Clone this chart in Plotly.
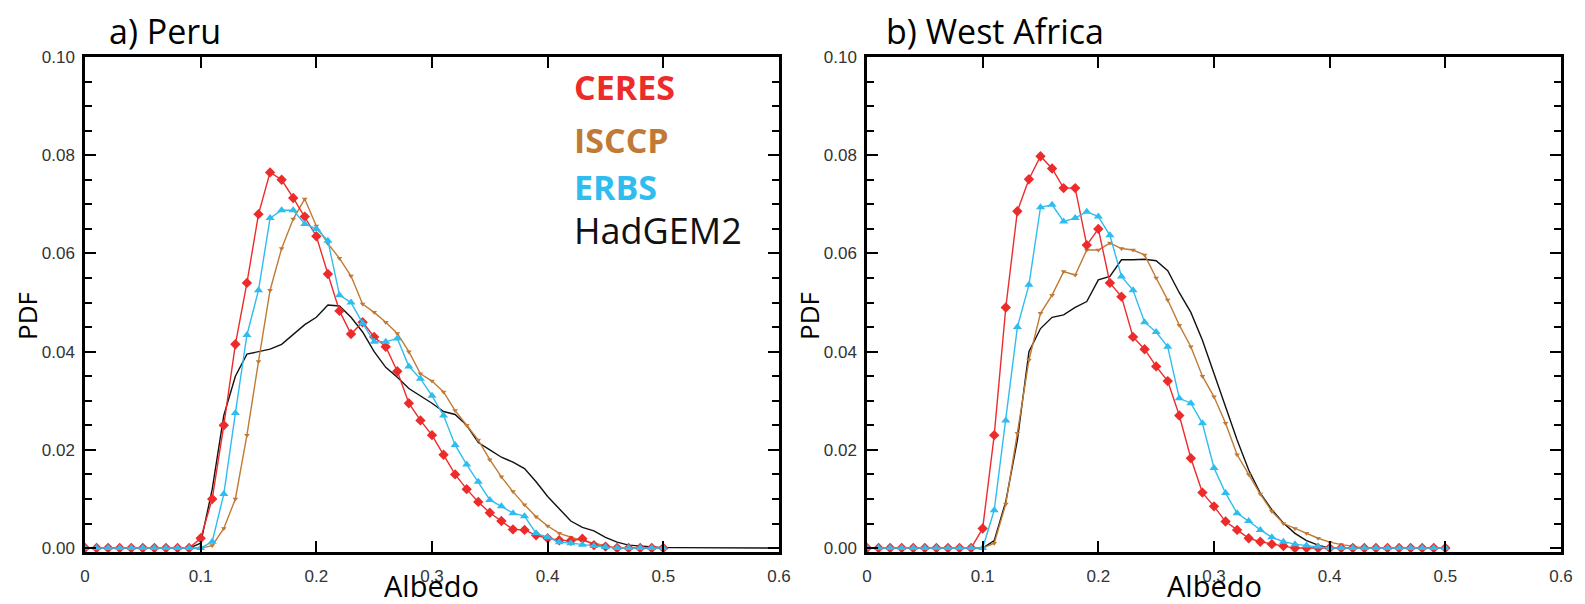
import plotly.graph_objects as go

# ---------------- data ----------------
albedo_obs = [round(i * 0.01, 2) for i in range(51)]          # 0.00 .. 0.50
albedo_model = [round(i * 0.01, 2) for i in range(61)]        # 0.00 .. 0.60

zeros10 = [0.0] * 10

# a) Peru
peru_ceres = zeros10 + [0.002, 0.010, 0.025, 0.0415, 0.054, 0.068, 0.0765, 0.075, 0.0713, 0.0675,
                        0.0635, 0.0558, 0.0483, 0.0436, 0.046, 0.043, 0.041, 0.036, 0.0295, 0.026,
                        0.023, 0.019, 0.015, 0.012, 0.0094, 0.0072, 0.0055, 0.0038, 0.0037, 0.0026,
                        0.002, 0.0016, 0.0015, 0.0019, 0.0006, 0.0003, 0.0, 0.0, 0.0, 0.0, 0.0]
peru_isccp = zeros10 + [0.0, 0.0005, 0.004, 0.010, 0.023, 0.038, 0.0525, 0.061, 0.067, 0.0711,
                        0.0656, 0.062, 0.059, 0.0554, 0.0497, 0.048, 0.046, 0.0437, 0.040, 0.0355,
                        0.034, 0.0318, 0.028, 0.025, 0.022, 0.018, 0.0145, 0.0115, 0.0088, 0.0064,
                        0.0045, 0.003, 0.0022, 0.0015, 0.001, 0.0005, 0.0, 0.0, 0.0, 0.0, 0.0]
peru_erbs = zeros10 + [0.0, 0.0013, 0.011, 0.0275, 0.0434, 0.0525, 0.0672, 0.0688, 0.0688, 0.066,
                       0.065, 0.0626, 0.0515, 0.050, 0.0458, 0.042, 0.042, 0.0427, 0.037, 0.0345,
                       0.031, 0.027, 0.021, 0.017, 0.0135, 0.0098, 0.0085, 0.0071, 0.0065, 0.003,
                       0.0022, 0.0012, 0.001, 0.0007, 0.0004, 0.0002, 0.0, 0.0, 0.0, 0.0, 0.0]
peru_hadgem2 = zeros10 + [0.001, 0.012, 0.027, 0.035, 0.0395, 0.040, 0.0405, 0.0415, 0.0435, 0.0455,
                          0.047, 0.0495, 0.0493, 0.047, 0.044, 0.040, 0.0368, 0.0348, 0.0325, 0.031,
                          0.0295, 0.0278, 0.0272, 0.025, 0.0215, 0.020, 0.0185, 0.0175, 0.0162, 0.0135,
                          0.0105, 0.008, 0.0055, 0.0042, 0.0035, 0.0022, 0.0012, 0.0006, 0.0004, 0.0002,
                          0.0001, 0.0001, 0.0001, 0.0001, 0.0001, 0.0001, 0.0001, 0.0001, 0.0001, 0.0, 0.0]

# b) West Africa
wa_ceres = zeros10 + [0.004, 0.023, 0.049, 0.0686, 0.0751, 0.0798, 0.0773, 0.0733, 0.0733, 0.0617,
                      0.065, 0.054, 0.0512, 0.043, 0.0405, 0.037, 0.034, 0.027, 0.0183, 0.0113,
                      0.0085, 0.0054, 0.0037, 0.002, 0.0013, 0.0008, 0.0004, 0.0, 0.0, 0.0,
                      0.0, 0.0, 0.0, 0.0, 0.0, 0.0, 0.0, 0.0, 0.0, 0.0, 0.0]
wa_isccp = zeros10 + [0.0, 0.001, 0.009, 0.0234, 0.0383, 0.0478, 0.0515, 0.0563, 0.0556, 0.0607,
                      0.0607, 0.0621, 0.061, 0.0607, 0.0597, 0.055, 0.0505, 0.0454, 0.041, 0.035,
                      0.0308, 0.0254, 0.019, 0.015, 0.011, 0.0075, 0.005, 0.004, 0.003, 0.002,
                      0.0012, 0.0007, 0.0004, 0.0, 0.0, 0.0, 0.0, 0.0, 0.0, 0.0, 0.0]
wa_erbs = zeros10 + [0.0, 0.0077, 0.026, 0.045, 0.0536, 0.0694, 0.0699, 0.0665, 0.0672, 0.0685,
                     0.0675, 0.0637, 0.0553, 0.0525, 0.046, 0.044, 0.041, 0.0305, 0.0295, 0.0254,
                     0.0163, 0.0112, 0.0071, 0.0055, 0.0037, 0.0022, 0.0013, 0.0008, 0.0005, 0.0003,
                     0.0, 0.0, 0.0, 0.0, 0.0, 0.0, 0.0, 0.0, 0.0, 0.0, 0.0]
wa_hadgem2 = zeros10 + [0.0, 0.0015, 0.0095, 0.022, 0.040, 0.0447, 0.047, 0.0475, 0.049, 0.0502,
                        0.0546, 0.0553, 0.0587, 0.0587, 0.0588, 0.0585, 0.0565, 0.052, 0.048, 0.0423,
                        0.0356, 0.0288, 0.022, 0.0159, 0.0112, 0.0078, 0.0051, 0.003, 0.0015, 0.0006,
                        0.0, 0.0, 0.0, 0.0, 0.0, 0.0, 0.0, 0.0, 0.0, 0.0, 0.0]

series_names = ["CERES", "ISCCP", "ERBS", "HadGEM2"]
panel_titles = ["a) Peru", "b) West Africa"]
x_ticks = [0, 0.1, 0.2, 0.3, 0.4, 0.5, 0.6]
x_tick_labels = ["0", "0.1", "0.2", "0.3", "0.4", "0.5", "0.6"]
y_ticks = [0.0, 0.02, 0.04, 0.06, 0.08, 0.10]
y_tick_labels = ["0.00", "0.02", "0.04", "0.06", "0.08", "0.10"]

# ---------------- styles ----------------
C_RED = "#ee2b2b"
C_BROWN = "#c07a35"
C_CYAN = "#2fbdf0"
C_BLACK = "#111111"

fig = go.Figure()

panels = [
    ("x", "y", peru_ceres, peru_isccp, peru_erbs, peru_hadgem2),
    ("x2", "y2", wa_ceres, wa_isccp, wa_erbs, wa_hadgem2),
]

for xa, ya, ceres, isccp, erbs, had in panels:
    fig.add_trace(go.Scatter(x=albedo_model[:len(had)], y=had, mode="lines", name="HadGEM2",
                             line=dict(color=C_BLACK, width=1.4), xaxis=xa, yaxis=ya, showlegend=False))
    fig.add_trace(go.Scatter(x=albedo_obs, y=isccp, mode="lines+markers", name="ISCCP",
                             line=dict(color=C_BROWN, width=1.4),
                             marker=dict(symbol="triangle-down", size=5, color=C_BROWN),
                             xaxis=xa, yaxis=ya, showlegend=False))
    fig.add_trace(go.Scatter(x=albedo_obs, y=ceres, mode="lines+markers", name="CERES",
                             line=dict(color=C_RED, width=1.4),
                             marker=dict(symbol="diamond", size=8, color=C_RED),
                             xaxis=xa, yaxis=ya, showlegend=False))
    fig.add_trace(go.Scatter(x=albedo_obs, y=erbs, mode="lines+markers", name="ERBS",
                             line=dict(color=C_CYAN, width=1.4),
                             marker=dict(symbol="triangle-up", size=8, color=C_CYAN),
                             xaxis=xa, yaxis=ya, showlegend=False))

# the page body adds an 8 px offset; figure is sized to fit the window
OFF = 8
W, H = 1585 - OFF, 604 - OFF
def px(v):
    return (v - OFF) / W
def py(v):
    return 1 - (v - OFF) / H

left_dom = [px(85), px(779)]
right_dom = [px(867), px(1561)]
y_dom = [py(552), py(57)]

tickfont = dict(family="Liberation Sans, Arial, sans-serif", size=17, color="#333333")

xaxis_common = dict(range=[0, 0.6], tickmode="array", tickvals=x_ticks, ticktext=x_tick_labels,
                    ticks="inside", ticklen=11, tickwidth=2, tickcolor="black",
                    showline=True, linecolor="black", linewidth=2.5, mirror="ticks",
                    showgrid=False, zeroline=False, tickfont=tickfont, ticklabelstandoff=7,
                    automargin=False)
yaxis_common = dict(range=[-0.0008, 0.1], tickmode="array", tickvals=y_ticks, ticktext=y_tick_labels,
                    ticks="inside", ticklen=11, tickwidth=2, tickcolor="black",
                    minor=dict(ticks="inside", ticklen=7, tickwidth=2, tickcolor="black", dtick=0.005),
                    showline=True, linecolor="black", linewidth=2.5, mirror="ticks",
                    showgrid=False, zeroline=False, tickfont=tickfont, ticklabelstandoff=4,
                    automargin=False)

fig.update_layout(
    width=W, height=H,
    margin=dict(l=0, r=0, t=0, b=0, autoexpand=False),
    paper_bgcolor="white", plot_bgcolor="white",
    showlegend=False,
    xaxis=dict(domain=left_dom, anchor="y", **xaxis_common),
    yaxis=dict(domain=y_dom, anchor="x", **yaxis_common),
    xaxis2=dict(domain=right_dom, anchor="y2", **xaxis_common),
    yaxis2=dict(domain=y_dom, anchor="x2", **yaxis_common),
)

annots = []
title_font = dict(family="Open Sans, sans-serif", size=34, color="black")
annots.append(dict(text=panel_titles[0], x=px(107), y=py(31), xref="paper", yref="paper",
                   xanchor="left", yanchor="middle", showarrow=False, font=title_font))
annots.append(dict(text=panel_titles[1], x=px(884), y=py(31), xref="paper", yref="paper",
                   xanchor="left", yanchor="middle", showarrow=False, font=title_font))

label_font = dict(family="Open Sans, sans-serif", size=29, color="black")
for cx in [432, 1214]:
    annots.append(dict(text="Albedo", x=px(cx), y=py(585), xref="paper", yref="paper",
                       xanchor="center", yanchor="middle", showarrow=False, font=label_font))
for cx in [27, 809]:
    annots.append(dict(text="PDF", x=px(cx), y=py(316), xref="paper", yref="paper",
                       xanchor="center", yanchor="middle", showarrow=False, textangle=-90,
                       font=dict(family="Open Sans, sans-serif", size=26, color="black")))

legend_colors = [C_RED, C_BROWN, C_CYAN, C_BLACK]
legend_y = [87, 140, 187, 230]
legend_size = [34, 34, 34, 36]
for name, col, ly, fs in zip(series_names, legend_colors, legend_y, legend_size):
    txt = name if name == "HadGEM2" else "<b>" + name + "</b>"
    annots.append(dict(text=txt, x=px(572), y=py(ly), xref="paper", yref="paper",
                       xanchor="left", yanchor="middle", showarrow=False,
                       font=dict(family="Open Sans, sans-serif", size=fs, color=col)))

fig.update_layout(annotations=annots)

fig.write_html("out.html")
